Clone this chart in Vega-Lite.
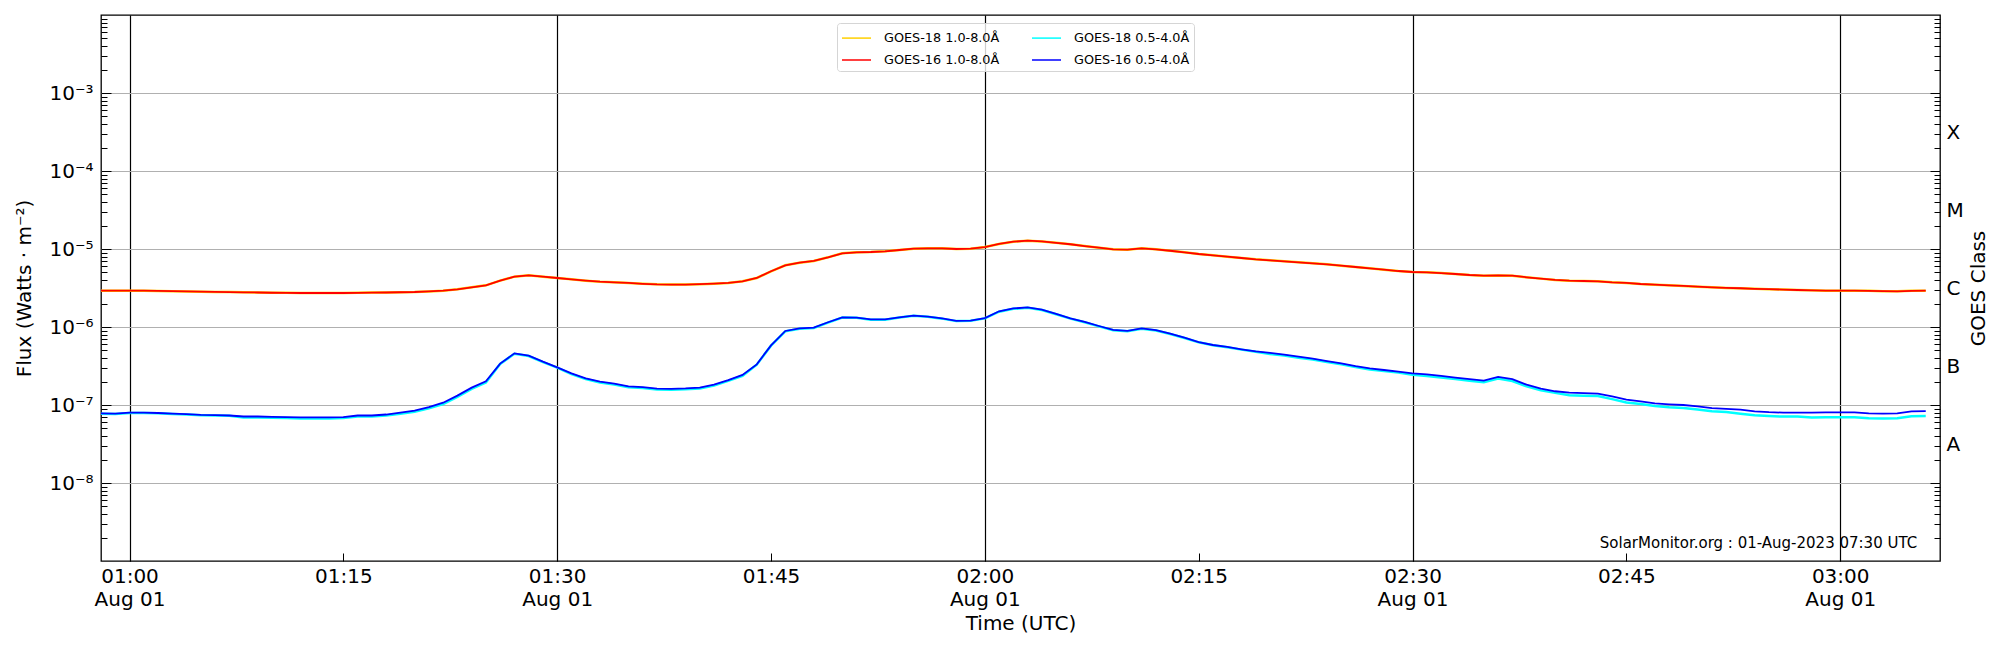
{
  "$schema": "https://vega.github.io/schema/vega-lite/v6.json",
  "width": 1839,
  "height": 546,
  "autosize": {"type": "none"},
  "padding": {"left": 101, "top": 15, "right": 60, "bottom": 89},
  "background": "white",
  "datasets": {
    "flux": [
      {"t": "2023-08-01T00:58:00Z", "a": 2.92e-6, "b": 7.74e-8, "c": 2.92e-6, "d": 7.82e-8},
      {"t": "2023-08-01T00:59:00Z", "a": 2.92e-6, "b": 7.68e-8, "c": 2.92e-6, "d": 7.76e-8},
      {"t": "2023-08-01T01:00:00Z", "a": 2.92e-6, "b": 7.90e-8, "c": 2.92e-6, "d": 7.98e-8},
      {"t": "2023-08-01T01:01:00Z", "a": 2.92e-6, "b": 7.90e-8, "c": 2.92e-6, "d": 7.98e-8},
      {"t": "2023-08-01T01:02:00Z", "a": 2.90e-6, "b": 7.82e-8, "c": 2.90e-6, "d": 7.90e-8},
      {"t": "2023-08-01T01:03:00Z", "a": 2.88e-6, "b": 7.68e-8, "c": 2.88e-6, "d": 7.76e-8},
      {"t": "2023-08-01T01:04:00Z", "a": 2.86e-6, "b": 7.54e-8, "c": 2.86e-6, "d": 7.62e-8},
      {"t": "2023-08-01T01:05:00Z", "a": 2.84e-6, "b": 7.40e-8, "c": 2.84e-6, "d": 7.47e-8},
      {"t": "2023-08-01T01:06:00Z", "a": 2.82e-6, "b": 7.33e-8, "c": 2.82e-6, "d": 7.40e-8},
      {"t": "2023-08-01T01:07:00Z", "a": 2.80e-6, "b": 7.26e-8, "c": 2.80e-6, "d": 7.33e-8},
      {"t": "2023-08-01T01:08:00Z", "a": 2.78e-6, "b": 6.91e-8, "c": 2.78e-6, "d": 7.12e-8},
      {"t": "2023-08-01T01:09:00Z", "a": 2.77e-6, "b": 6.91e-8, "c": 2.77e-6, "d": 7.12e-8},
      {"t": "2023-08-01T01:10:00Z", "a": 2.75e-6, "b": 6.85e-8, "c": 2.75e-6, "d": 7.06e-8},
      {"t": "2023-08-01T01:11:00Z", "a": 2.74e-6, "b": 6.79e-8, "c": 2.74e-6, "d": 7.00e-8},
      {"t": "2023-08-01T01:12:00Z", "a": 2.73e-6, "b": 6.72e-8, "c": 2.73e-6, "d": 6.93e-8},
      {"t": "2023-08-01T01:13:00Z", "a": 2.73e-6, "b": 6.72e-8, "c": 2.73e-6, "d": 6.93e-8},
      {"t": "2023-08-01T01:14:00Z", "a": 2.73e-6, "b": 6.72e-8, "c": 2.73e-6, "d": 6.93e-8},
      {"t": "2023-08-01T01:15:00Z", "a": 2.73e-6, "b": 6.79e-8, "c": 2.73e-6, "d": 7.00e-8},
      {"t": "2023-08-01T01:16:00Z", "a": 2.74e-6, "b": 7.11e-8, "c": 2.74e-6, "d": 7.33e-8},
      {"t": "2023-08-01T01:17:00Z", "a": 2.76e-6, "b": 7.11e-8, "c": 2.76e-6, "d": 7.33e-8},
      {"t": "2023-08-01T01:18:00Z", "a": 2.77e-6, "b": 7.32e-8, "c": 2.77e-6, "d": 7.55e-8},
      {"t": "2023-08-01T01:19:00Z", "a": 2.79e-6, "b": 7.74e-8, "c": 2.79e-6, "d": 7.98e-8},
      {"t": "2023-08-01T01:20:00Z", "a": 2.81e-6, "b": 8.20e-8, "c": 2.81e-6, "d": 8.45e-8},
      {"t": "2023-08-01T01:21:00Z", "a": 2.86e-6, "b": 9.09e-8, "c": 2.86e-6, "d": 9.42e-8},
      {"t": "2023-08-01T01:22:00Z", "a": 2.92e-6, "b": 1.03e-7, "c": 2.92e-6, "d": 1.07e-7},
      {"t": "2023-08-01T01:23:00Z", "a": 3.04e-6, "b": 1.27e-7, "c": 3.04e-6, "d": 1.32e-7},
      {"t": "2023-08-01T01:24:00Z", "a": 3.23e-6, "b": 1.61e-7, "c": 3.23e-6, "d": 1.67e-7},
      {"t": "2023-08-01T01:25:00Z", "a": 3.42e-6, "b": 1.94e-7, "c": 3.42e-6, "d": 2.01e-7},
      {"t": "2023-08-01T01:26:00Z", "a": 3.93e-6, "b": 3.36e-7, "c": 3.93e-6, "d": 3.39e-7},
      {"t": "2023-08-01T01:27:00Z", "a": 4.42e-6, "b": 4.54e-7, "c": 4.42e-6, "d": 4.59e-7},
      {"t": "2023-08-01T01:28:00Z", "a": 4.59e-6, "b": 4.25e-7, "c": 4.59e-6, "d": 4.29e-7},
      {"t": "2023-08-01T01:29:00Z", "a": 4.42e-6, "b": 3.55e-7, "c": 4.42e-6, "d": 3.59e-7},
      {"t": "2023-08-01T01:30:00Z", "a": 4.25e-6, "b": 3.01e-7, "c": 4.25e-6, "d": 3.04e-7},
      {"t": "2023-08-01T01:31:00Z", "a": 4.08e-6, "b": 2.49e-7, "c": 4.08e-6, "d": 2.55e-7},
      {"t": "2023-08-01T01:32:00Z", "a": 3.93e-6, "b": 2.15e-7, "c": 3.93e-6, "d": 2.20e-7},
      {"t": "2023-08-01T01:33:00Z", "a": 3.81e-6, "b": 1.94e-7, "c": 3.81e-6, "d": 1.99e-7},
      {"t": "2023-08-01T01:34:00Z", "a": 3.74e-6, "b": 1.83e-7, "c": 3.74e-6, "d": 1.88e-7},
      {"t": "2023-08-01T01:35:00Z", "a": 3.67e-6, "b": 1.69e-7, "c": 3.67e-6, "d": 1.73e-7},
      {"t": "2023-08-01T01:36:00Z", "a": 3.58e-6, "b": 1.65e-7, "c": 3.58e-6, "d": 1.69e-7},
      {"t": "2023-08-01T01:37:00Z", "a": 3.52e-6, "b": 1.58e-7, "c": 3.52e-6, "d": 1.62e-7},
      {"t": "2023-08-01T01:38:00Z", "a": 3.50e-6, "b": 1.57e-7, "c": 3.50e-6, "d": 1.61e-7},
      {"t": "2023-08-01T01:39:00Z", "a": 3.50e-6, "b": 1.59e-7, "c": 3.50e-6, "d": 1.63e-7},
      {"t": "2023-08-01T01:40:00Z", "a": 3.54e-6, "b": 1.63e-7, "c": 3.54e-6, "d": 1.67e-7},
      {"t": "2023-08-01T01:41:00Z", "a": 3.59e-6, "b": 1.77e-7, "c": 3.59e-6, "d": 1.82e-7},
      {"t": "2023-08-01T01:42:00Z", "a": 3.67e-6, "b": 2.04e-7, "c": 3.67e-6, "d": 2.09e-7},
      {"t": "2023-08-01T01:43:00Z", "a": 3.85e-6, "b": 2.37e-7, "c": 3.85e-6, "d": 2.43e-7},
      {"t": "2023-08-01T01:44:00Z", "a": 4.25e-6, "b": 3.29e-7, "c": 4.25e-6, "d": 3.32e-7},
      {"t": "2023-08-01T01:45:00Z", "a": 5.18e-6, "b": 5.76e-7, "c": 5.18e-6, "d": 5.82e-7},
      {"t": "2023-08-01T01:46:00Z", "a": 6.18e-6, "b": 8.80e-7, "c": 6.18e-6, "d": 8.89e-7},
      {"t": "2023-08-01T01:47:00Z", "a": 6.68e-6, "b": 9.51e-7, "c": 6.68e-6, "d": 9.61e-7},
      {"t": "2023-08-01T01:48:00Z", "a": 7.02e-6, "b": 9.70e-7, "c": 7.02e-6, "d": 9.80e-7},
      {"t": "2023-08-01T01:49:00Z", "a": 7.82e-6, "b": 1.14e-6, "c": 7.82e-6, "d": 1.15e-6},
      {"t": "2023-08-01T01:50:00Z", "a": 8.80e-6, "b": 1.32e-6, "c": 8.80e-6, "d": 1.33e-6},
      {"t": "2023-08-01T01:51:00Z", "a": 9.07e-6, "b": 1.31e-6, "c": 9.07e-6, "d": 1.32e-6},
      {"t": "2023-08-01T01:52:00Z", "a": 9.15e-6, "b": 1.24e-6, "c": 9.15e-6, "d": 1.25e-6},
      {"t": "2023-08-01T01:53:00Z", "a": 9.33e-6, "b": 1.24e-6, "c": 9.33e-6, "d": 1.25e-6},
      {"t": "2023-08-01T01:54:00Z", "a": 9.71e-6, "b": 1.32e-6, "c": 9.71e-6, "d": 1.33e-6},
      {"t": "2023-08-01T01:55:00Z", "a": 1.01e-5, "b": 1.39e-6, "c": 1.01e-5, "d": 1.40e-6},
      {"t": "2023-08-01T01:56:00Z", "a": 1.02e-5, "b": 1.35e-6, "c": 1.02e-5, "d": 1.36e-6},
      {"t": "2023-08-01T01:57:00Z", "a": 1.02e-5, "b": 1.28e-6, "c": 1.02e-5, "d": 1.29e-6},
      {"t": "2023-08-01T01:58:00Z", "a": 1.00e-5, "b": 1.19e-6, "c": 1.00e-5, "d": 1.20e-6},
      {"t": "2023-08-01T01:59:00Z", "a": 1.01e-5, "b": 1.20e-6, "c": 1.01e-5, "d": 1.21e-6},
      {"t": "2023-08-01T02:00:00Z", "a": 1.06e-5, "b": 1.29e-6, "c": 1.06e-5, "d": 1.30e-6},
      {"t": "2023-08-01T02:01:00Z", "a": 1.16e-5, "b": 1.57e-6, "c": 1.16e-5, "d": 1.59e-6},
      {"t": "2023-08-01T02:02:00Z", "a": 1.24e-5, "b": 1.71e-6, "c": 1.24e-5, "d": 1.73e-6},
      {"t": "2023-08-01T02:03:00Z", "a": 1.28e-5, "b": 1.76e-6, "c": 1.28e-5, "d": 1.78e-6},
      {"t": "2023-08-01T02:04:00Z", "a": 1.25e-5, "b": 1.65e-6, "c": 1.25e-5, "d": 1.67e-6},
      {"t": "2023-08-01T02:05:00Z", "a": 1.20e-5, "b": 1.46e-6, "c": 1.20e-5, "d": 1.47e-6},
      {"t": "2023-08-01T02:06:00Z", "a": 1.15e-5, "b": 1.28e-6, "c": 1.15e-5, "d": 1.29e-6},
      {"t": "2023-08-01T02:07:00Z", "a": 1.09e-5, "b": 1.15e-6, "c": 1.09e-5, "d": 1.16e-6},
      {"t": "2023-08-01T02:08:00Z", "a": 1.04e-5, "b": 1.02e-6, "c": 1.04e-5, "d": 1.03e-6},
      {"t": "2023-08-01T02:09:00Z", "a": 9.90e-6, "b": 9.07e-7, "c": 9.90e-6, "d": 9.16e-7},
      {"t": "2023-08-01T02:10:00Z", "a": 9.80e-6, "b": 8.81e-7, "c": 9.80e-6, "d": 8.90e-7},
      {"t": "2023-08-01T02:11:00Z", "a": 1.02e-5, "b": 9.50e-7, "c": 1.02e-5, "d": 9.60e-7},
      {"t": "2023-08-01T02:12:00Z", "a": 9.90e-6, "b": 9.01e-7, "c": 9.90e-6, "d": 9.10e-7},
      {"t": "2023-08-01T02:13:00Z", "a": 9.50e-6, "b": 8.14e-7, "c": 9.50e-6, "d": 8.22e-7},
      {"t": "2023-08-01T02:14:00Z", "a": 9.07e-6, "b": 7.23e-7, "c": 9.07e-6, "d": 7.30e-7},
      {"t": "2023-08-01T02:15:00Z", "a": 8.63e-6, "b": 6.36e-7, "c": 8.63e-6, "d": 6.42e-7},
      {"t": "2023-08-01T02:16:00Z", "a": 8.30e-6, "b": 5.82e-7, "c": 8.30e-6, "d": 5.88e-7},
      {"t": "2023-08-01T02:17:00Z", "a": 7.97e-6, "b": 5.49e-7, "c": 7.97e-6, "d": 5.55e-7},
      {"t": "2023-08-01T02:18:00Z", "a": 7.67e-6, "b": 5.13e-7, "c": 7.67e-6, "d": 5.18e-7},
      {"t": "2023-08-01T02:19:00Z", "a": 7.37e-6, "b": 4.83e-7, "c": 7.37e-6, "d": 4.88e-7},
      {"t": "2023-08-01T02:20:00Z", "a": 7.16e-6, "b": 4.51e-7, "c": 7.16e-6, "d": 4.65e-7},
      {"t": "2023-08-01T02:21:00Z", "a": 6.95e-6, "b": 4.30e-7, "c": 6.95e-6, "d": 4.43e-7},
      {"t": "2023-08-01T02:22:00Z", "a": 6.74e-6, "b": 4.04e-7, "c": 6.74e-6, "d": 4.17e-7},
      {"t": "2023-08-01T02:23:00Z", "a": 6.55e-6, "b": 3.82e-7, "c": 6.55e-6, "d": 3.94e-7},
      {"t": "2023-08-01T02:24:00Z", "a": 6.36e-6, "b": 3.55e-7, "c": 6.36e-6, "d": 3.66e-7},
      {"t": "2023-08-01T02:25:00Z", "a": 6.11e-6, "b": 3.32e-7, "c": 6.11e-6, "d": 3.42e-7},
      {"t": "2023-08-01T02:26:00Z", "a": 5.88e-6, "b": 3.07e-7, "c": 5.88e-6, "d": 3.16e-7},
      {"t": "2023-08-01T02:27:00Z", "a": 5.65e-6, "b": 2.86e-7, "c": 5.65e-6, "d": 2.95e-7},
      {"t": "2023-08-01T02:28:00Z", "a": 5.43e-6, "b": 2.73e-7, "c": 5.43e-6, "d": 2.81e-7},
      {"t": "2023-08-01T02:29:00Z", "a": 5.22e-6, "b": 2.60e-7, "c": 5.22e-6, "d": 2.68e-7},
      {"t": "2023-08-01T02:30:00Z", "a": 5.07e-6, "b": 2.44e-7, "c": 5.07e-6, "d": 2.55e-7},
      {"t": "2023-08-01T02:31:00Z", "a": 5.02e-6, "b": 2.36e-7, "c": 5.02e-6, "d": 2.47e-7},
      {"t": "2023-08-01T02:32:00Z", "a": 4.92e-6, "b": 2.25e-7, "c": 4.92e-6, "d": 2.36e-7},
      {"t": "2023-08-01T02:33:00Z", "a": 4.78e-6, "b": 2.15e-7, "c": 4.78e-6, "d": 2.25e-7},
      {"t": "2023-08-01T02:34:00Z", "a": 4.64e-6, "b": 2.04e-7, "c": 4.64e-6, "d": 2.14e-7},
      {"t": "2023-08-01T02:35:00Z", "a": 4.55e-6, "b": 1.96e-7, "c": 4.55e-6, "d": 2.05e-7},
      {"t": "2023-08-01T02:36:00Z", "a": 4.59e-6, "b": 2.18e-7, "c": 4.59e-6, "d": 2.29e-7},
      {"t": "2023-08-01T02:37:00Z", "a": 4.55e-6, "b": 2.03e-7, "c": 4.55e-6, "d": 2.14e-7},
      {"t": "2023-08-01T02:38:00Z", "a": 4.34e-6, "b": 1.73e-7, "c": 4.34e-6, "d": 1.82e-7},
      {"t": "2023-08-01T02:39:00Z", "a": 4.17e-6, "b": 1.54e-7, "c": 4.17e-6, "d": 1.62e-7},
      {"t": "2023-08-01T02:40:00Z", "a": 4.01e-6, "b": 1.43e-7, "c": 4.01e-6, "d": 1.50e-7},
      {"t": "2023-08-01T02:41:00Z", "a": 3.93e-6, "b": 1.33e-7, "c": 3.93e-6, "d": 1.44e-7},
      {"t": "2023-08-01T02:42:00Z", "a": 3.89e-6, "b": 1.31e-7, "c": 3.89e-6, "d": 1.42e-7},
      {"t": "2023-08-01T02:43:00Z", "a": 3.85e-6, "b": 1.30e-7, "c": 3.85e-6, "d": 1.40e-7},
      {"t": "2023-08-01T02:44:00Z", "a": 3.74e-6, "b": 1.19e-7, "c": 3.74e-6, "d": 1.29e-7},
      {"t": "2023-08-01T02:45:00Z", "a": 3.67e-6, "b": 1.08e-7, "c": 3.67e-6, "d": 1.17e-7},
      {"t": "2023-08-01T02:46:00Z", "a": 3.56e-6, "b": 1.03e-7, "c": 3.56e-6, "d": 1.11e-7},
      {"t": "2023-08-01T02:47:00Z", "a": 3.49e-6, "b": 9.71e-8, "c": 3.49e-6, "d": 1.05e-7},
      {"t": "2023-08-01T02:48:00Z", "a": 3.42e-6, "b": 9.33e-8, "c": 3.42e-6, "d": 1.02e-7},
      {"t": "2023-08-01T02:49:00Z", "a": 3.36e-6, "b": 9.15e-8, "c": 3.36e-6, "d": 1.00e-7},
      {"t": "2023-08-01T02:50:00Z", "a": 3.29e-6, "b": 8.78e-8, "c": 3.29e-6, "d": 9.60e-8},
      {"t": "2023-08-01T02:51:00Z", "a": 3.23e-6, "b": 8.33e-8, "c": 3.23e-6, "d": 9.10e-8},
      {"t": "2023-08-01T02:52:00Z", "a": 3.17e-6, "b": 8.14e-8, "c": 3.17e-6, "d": 8.90e-8},
      {"t": "2023-08-01T02:53:00Z", "a": 3.14e-6, "b": 7.74e-8, "c": 3.14e-6, "d": 8.70e-8},
      {"t": "2023-08-01T02:54:00Z", "a": 3.09e-6, "b": 7.39e-8, "c": 3.09e-6, "d": 8.30e-8},
      {"t": "2023-08-01T02:55:00Z", "a": 3.05e-6, "b": 7.21e-8, "c": 3.05e-6, "d": 8.10e-8},
      {"t": "2023-08-01T02:56:00Z", "a": 3.02e-6, "b": 7.10e-8, "c": 3.02e-6, "d": 7.98e-8},
      {"t": "2023-08-01T02:57:00Z", "a": 2.98e-6, "b": 7.10e-8, "c": 2.98e-6, "d": 7.98e-8},
      {"t": "2023-08-01T02:58:00Z", "a": 2.95e-6, "b": 6.90e-8, "c": 2.95e-6, "d": 7.98e-8},
      {"t": "2023-08-01T02:59:00Z", "a": 2.92e-6, "b": 6.96e-8, "c": 2.92e-6, "d": 8.05e-8},
      {"t": "2023-08-01T03:00:00Z", "a": 2.92e-6, "b": 6.96e-8, "c": 2.92e-6, "d": 8.05e-8},
      {"t": "2023-08-01T03:01:00Z", "a": 2.92e-6, "b": 6.96e-8, "c": 2.92e-6, "d": 8.05e-8},
      {"t": "2023-08-01T03:02:00Z", "a": 2.91e-6, "b": 6.76e-8, "c": 2.91e-6, "d": 7.82e-8},
      {"t": "2023-08-01T03:03:00Z", "a": 2.88e-6, "b": 6.71e-8, "c": 2.88e-6, "d": 7.76e-8},
      {"t": "2023-08-01T03:04:00Z", "a": 2.87e-6, "b": 6.76e-8, "c": 2.87e-6, "d": 7.82e-8},
      {"t": "2023-08-01T03:05:00Z", "a": 2.91e-6, "b": 7.18e-8, "c": 2.91e-6, "d": 8.30e-8},
      {"t": "2023-08-01T03:06:00Z", "a": 2.92e-6, "b": 7.24e-8, "c": 2.92e-6, "d": 8.37e-8}
    ]
  },
  "layer": [
    {
      "data": {"name": "flux"},
      "transform": [
        {"fold": ["a", "b"], "as": ["series", "flux"]}
      ],
      "mark": {"type": "line", "strokeWidth": 2.5, "clip": true},
      "encoding": {
        "x": {
          "field": "t",
          "type": "temporal",
          "scale": {
            "type": "utc",
            "domain": [
              {"year": 2023, "month": 8, "date": 1, "hours": 0, "minutes": 58, "utc": true},
              {"year": 2023, "month": 8, "date": 1, "hours": 3, "minutes": 7, "utc": true}
            ]
          },
          "axis": {
            "orient": "bottom",
            "values": [
              {"year": 2023, "month": 8, "date": 1, "hours": 1, "minutes": 0, "utc": true},
              {"year": 2023, "month": 8, "date": 1, "hours": 1, "minutes": 15, "utc": true},
              {"year": 2023, "month": 8, "date": 1, "hours": 1, "minutes": 30, "utc": true},
              {"year": 2023, "month": 8, "date": 1, "hours": 1, "minutes": 45, "utc": true},
              {"year": 2023, "month": 8, "date": 1, "hours": 2, "minutes": 0, "utc": true},
              {"year": 2023, "month": 8, "date": 1, "hours": 2, "minutes": 15, "utc": true},
              {"year": 2023, "month": 8, "date": 1, "hours": 2, "minutes": 30, "utc": true},
              {"year": 2023, "month": 8, "date": 1, "hours": 2, "minutes": 45, "utc": true},
              {"year": 2023, "month": 8, "date": 1, "hours": 3, "minutes": 0, "utc": true}
            ],
            "labelExpr": "utcminutes(datum.value) % 30 == 0 ? [utcFormat(datum.value, '%H:%M'), utcFormat(datum.value, '%b %d')] : utcFormat(datum.value, '%H:%M')",
            "title": "Time (UTC)",
            "grid": true,
            "gridColor": "black",
            "gridWidth": 1.2,
            "gridOpacity": {"condition": {"test": "utcminutes(datum.value) % 30 == 0", "value": 1}, "value": 0},
            "tickSize": -8,
            "tickColor": "black",
            "domain": false,
            "labelPadding": 13,
            "labelFontSize": 20,
            "labelLineHeight": 23,
            "labelFlush": false,
            "labelOverlap": false,
            "titleFontSize": 20,
            "titleFontWeight": "normal",
            "titlePadding": 4
          }
        },
        "y": {
          "field": "flux",
          "type": "quantitative",
          "scale": {"type": "log", "domain": [1e-9, 1e-2]},
          "axis": {
            "orient": "left",
            "values": [2e-9, 3e-9, 4e-9, 5e-9, 6e-9, 7e-9, 8e-9, 9e-9, 1e-8, 2e-8, 3e-8, 4e-8, 5e-8, 6e-8, 7e-8, 8e-8, 9e-8, 1e-7, 2e-7, 3e-7, 4e-7, 5e-7, 6e-7, 7e-7, 8e-7, 9e-7, 1e-6, 2e-6, 3e-6, 4e-6, 5e-6, 6e-6, 7e-6, 8e-6, 9e-6, 1e-5, 2e-5, 3e-5, 4e-5, 5e-5, 6e-5, 7e-5, 8e-5, 9e-5, 1e-4, 2e-4, 3e-4, 4e-4, 5e-4, 6e-4, 7e-4, 8e-4, 9e-4, 1e-3, 2e-3, 3e-3, 4e-3, 5e-3, 6e-3, 7e-3, 8e-3, 9e-3],
            "labelExpr": "abs(log(datum.value) / LN10 - round(log(datum.value) / LN10)) < 0.001 ? '10⁻' + ['⁰', '¹', '²', '³', '⁴', '⁵', '⁶', '⁷', '⁸', '⁹'][-round(log(datum.value) / LN10)] : ''",
            "grid": true,
            "gridColor": "#b0b0b0",
            "gridWidth": 1,
            "gridOpacity": {"condition": {"test": "abs(log(datum.value) / LN10 - round(log(datum.value) / LN10)) < 0.001", "value": 1}, "value": 0},
            "tickSize": {"condition": {"test": "abs(log(datum.value) / LN10 - round(log(datum.value) / LN10)) < 0.001", "value": -10}, "value": -6},
            "tickColor": "black",
            "domain": false,
            "labelPadding": 18,
            "labelFontSize": 20,
            "labelOverlap": false,
            "labelFlush": false,
            "title": "Flux (Watts · m⁻²)",
            "titleFontSize": 20,
            "titleFontWeight": "normal",
            "titlePadding": 14
          }
        },
        "color": {
          "field": "series",
          "type": "nominal",
          "scale": {"domain": ["a", "b", "c", "d"], "range": ["#ffd000", "#00ffff", "#ff0000", "#0000ff"]},
          "legend": {
            "orient": "none",
            "direction": "horizontal",
            "legendX": 736,
            "legendY": 8,
            "columns": 2,
            "title": null,
            "symbolType": "M-1,0H1.9",
            "symbolSize": 400,
            "symbolStrokeWidth": 1.5,
            "labelFontSize": 12.8,
            "labelOffset": 21,
            "columnPadding": 29,
            "rowPadding": 4,
            "padding": 4,
            "strokeColor": "#d5d5d5",
            "fillColor": "rgba(255,255,255,0.8)",
            "cornerRadius": 3,
            "labelExpr": "{'a': 'GOES-18 1.0-8.0Å', 'b': 'GOES-18 0.5-4.0Å', 'c': 'GOES-16 1.0-8.0Å', 'd': 'GOES-16 0.5-4.0Å'}[datum.label]"
          }
        }
      }
    },
    {
      "data": {"name": "flux"},
      "transform": [
        {"fold": ["c", "d"], "as": ["series", "flux"]}
      ],
      "mark": {"type": "line", "strokeWidth": 1.8, "clip": true},
      "encoding": {
        "x": {"field": "t", "type": "temporal", "scale": {"type": "utc"}, "axis": null},
        "y": {"field": "flux", "type": "quantitative", "scale": {"type": "log", "domain": [1e-9, 1e-2]}, "axis": null},
        "color": {"field": "series", "type": "nominal"}
      }
    },
    {
      "data": {"name": "flux"},
      "mark": {"type": "rule", "opacity": 0},
      "encoding": {
        "y": {
          "field": "c",
          "type": "quantitative",
          "scale": {"type": "log", "domain": [1e-9, 1e-2]},
          "axis": {
            "orient": "right",
            "values": [2e-9, 3e-9, 4e-9, 5e-9, 6e-9, 7e-9, 8e-9, 9e-9, 1e-8, 2e-8, 3e-8, 4e-8, 5e-8, 6e-8, 7e-8, 8e-8, 9e-8, 1e-7, 2e-7, 3e-7, 4e-7, 5e-7, 6e-7, 7e-7, 8e-7, 9e-7, 1e-6, 2e-6, 3e-6, 4e-6, 5e-6, 6e-6, 7e-6, 8e-6, 9e-6, 1e-5, 2e-5, 3e-5, 4e-5, 5e-5, 6e-5, 7e-5, 8e-5, 9e-5, 1e-4, 2e-4, 3e-4, 4e-4, 5e-4, 6e-4, 7e-4, 8e-4, 9e-4, 1e-3, 2e-3, 3e-3, 4e-3, 5e-3, 6e-3, 7e-3, 8e-3, 9e-3],
            "labelExpr": "abs(log(datum.value) / LN10 - round(log(datum.value) / LN10)) < 0.001 && round(log(datum.value) / LN10) <= -4 && round(log(datum.value) / LN10) >= -8 ? ['X', 'M', 'C', 'B', 'A'][-4 - round(log(datum.value) / LN10)] : ''",
            "labelOffset": -39,
            "grid": false,
            "tickSize": {"condition": {"test": "abs(log(datum.value) / LN10 - round(log(datum.value) / LN10)) < 0.001", "value": -10}, "value": -6},
            "tickColor": "black",
            "domain": false,
            "labelPadding": 16,
            "labelFontSize": 20,
            "labelOverlap": false,
            "labelFlush": false,
            "title": "GOES Class",
            "titleFontSize": 20,
            "titleFontWeight": "normal",
            "titleAngle": 270,
            "titleBaseline": "top",
            "titlePadding": 5
          }
        }
      }
    },
    {
      "data": {"values": [{}]},
      "mark": {"type": "text", "text": "SolarMonitor.org : 01-Aug-2023 07:30 UTC", "align": "right", "baseline": "middle", "fontSize": 15, "color": "black"},
      "encoding": {
        "x": {"datum": {"year": 2023, "month": 8, "date": 1, "hours": 3, "minutes": 5, "seconds": 24, "utc": true}, "type": "temporal", "scale": {"type": "utc"}, "axis": null},
        "y": {"datum": 1.72e-9, "type": "quantitative", "scale": {"type": "log", "domain": [1e-9, 1e-2]}, "axis": null}
      }
    }
  ],
  "resolve": {"axis": {"x": "independent", "y": "independent"}},
  "config": {
    "font": "DejaVu Sans",
    "view": {"stroke": "black", "strokeWidth": 1.3},
    "axis": {"labelColor": "black", "titleColor": "black", "labelFont": "DejaVu Sans", "titleFont": "DejaVu Sans"},
    "legend": {"labelFont": "DejaVu Sans", "labelColor": "black"},
    "text": {"font": "DejaVu Sans"}
  }
}
